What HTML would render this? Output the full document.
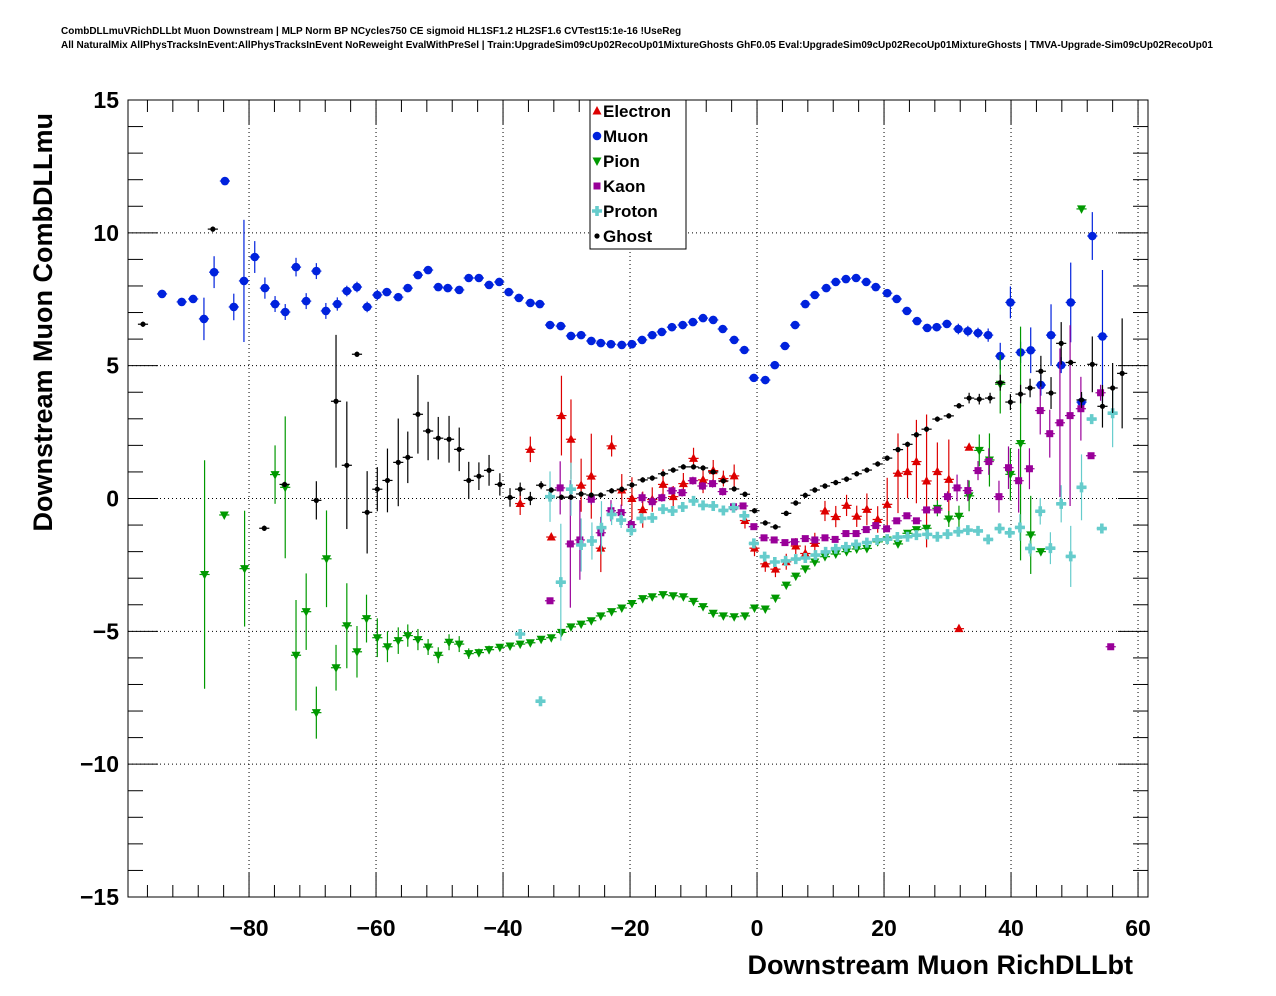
<!DOCTYPE html>
<html><head><meta charset="utf-8"><style>
html,body{margin:0;padding:0;background:#fff;}
svg{display:block;font-family:"Liberation Sans",sans-serif;}
</style></head><body>
<svg id="chart" width="1276" height="996" viewBox="0 0 1276 996" xmlns="http://www.w3.org/2000/svg">
<rect x="0" y="0" width="1276" height="996" fill="#fff"/>
<text x="61" y="34" font-size="10" font-weight="bold">CombDLLmuVRichDLLbt Muon Downstream | MLP Norm BP NCycles750 CE sigmoid HL1SF1.2 HL2SF1.6 CVTest15:1e-16 !UseReg</text>
<text x="61" y="48" font-size="10" font-weight="bold">All NaturalMix AllPhysTracksInEvent:AllPhysTracksInEvent NoReweight EvalWithPreSel | Train:UpgradeSim09cUp02RecoUp01MixtureGhosts GhF0.05 Eval:UpgradeSim09cUp02RecoUp01MixtureGhosts | TMVA-Upgrade-Sim09cUp02RecoUp01</text>
<g id="grid"></g>
<g id="axes"></g>
<g id="series"></g>
<rect x="128" y="100" width="1020" height="797" fill="none" stroke="#000" stroke-width="1"/>
<text x="1133" y="974" font-size="27" font-weight="bold" text-anchor="end">Downstream Muon RichDLLbt</text>
<text transform="translate(52,113) rotate(-90)" font-size="27" font-weight="bold" text-anchor="end">Downstream Muon CombDLLmu</text>
<g id="legend"></g>
</svg>
<script>
const xTickValues=[-80,-60,-40,-20,0,20,40,60];
const xTickLabels=["\u221280","\u221260","\u221240","\u221220","0","20","40","60"];
const yTickValues=[-15,-10,-5,0,5,10,15];
const yTickLabels=["\u221215","\u221210","\u22125","0","5","10","15"];

const electronX=[-37.3,-35.7,-32.4,-30.8,-29.3,-27.7,-26.1,-24.6,-22.9,-21.3,-19.7,-18.0,-16.5,-14.8,-13.2,-11.6,-10.0,-8.5,-6.9,-5.3,-3.6,-1.9,-0.4,1.3,2.9,4.6,6.1,7.6,9.1,10.7,12.4,14.1,15.7,17.3,19.0,20.5,22.2,23.7,25.1,26.7,28.4,30.2,31.8,33.4];
const electronY=[-0.19,1.85,-1.45,3.12,2.23,0.5,0.84,-1.87,1.98,0.32,0.0,-0.42,-0.04,0.53,0.07,0.56,1.51,0.70,1.05,0.75,0.85,-0.83,-1.87,-2.46,-2.66,-2.38,-1.79,-2.07,-1.69,-0.47,-0.68,-0.26,-0.67,-0.41,-0.79,-0.22,0.95,1.01,1.39,0.66,1.01,0.72,-4.9,1.93];
const electronErr=[0.43,0.48,0.1,1.5,1.5,1.0,1.6,0.9,0.4,0.6,0.8,0.68,0.46,0.57,0.4,0.4,0.4,0.5,0.4,0.3,0.43,0.3,0.3,0.3,0.3,0.3,0.3,0.3,0.4,0.38,0.4,0.4,0.4,0.6,0.5,1.0,1.5,1.0,1.57,2.5,1.1,1.5,0.1,0.1];

const muonX=[-93.7,-90.6,-88.8,-87.1,-85.5,-83.8,-82.4,-80.8,-79.1,-77.5,-75.9,-74.3,-72.6,-71.0,-69.4,-67.9,-66.1,-64.6,-63.0,-61.4,-59.8,-58.3,-56.5,-55.0,-53.4,-51.8,-50.2,-48.7,-46.9,-45.4,-43.8,-42.2,-40.6,-39.1,-37.5,-35.7,-34.2,-32.6,-30.9,-29.3,-27.7,-26.1,-24.6,-23.0,-21.3,-19.7,-18.1,-16.5,-15.0,-13.4,-11.7,-10.1,-8.5,-6.9,-5.4,-3.6,-2.0,-0.5,1.3,2.8,4.4,6.0,7.6,9.1,10.9,12.4,14.0,15.6,17.2,18.7,20.5,22.0,23.6,25.2,26.8,28.3,29.9,31.7,33.2,34.8,36.4,38.3,39.9,41.5,43.1,44.7,46.3,47.9,49.4,51.1,52.8,54.4];
const muonY=[7.70,7.40,7.51,6.76,8.52,11.95,7.21,8.19,9.09,7.92,7.32,7.02,8.71,7.43,8.56,7.06,7.32,7.81,7.96,7.21,7.66,7.77,7.58,7.92,8.41,8.60,7.96,7.92,7.85,8.30,8.30,8.04,8.15,7.77,7.55,7.36,7.32,6.53,6.49,6.12,6.15,5.93,5.85,5.81,5.78,5.81,5.97,6.15,6.27,6.45,6.53,6.64,6.79,6.72,6.38,5.97,5.59,4.54,4.46,5.02,5.74,6.53,7.32,7.66,7.92,8.15,8.26,8.30,8.15,7.96,7.73,7.51,7.06,6.68,6.42,6.45,6.57,6.38,6.30,6.23,6.15,5.36,7.38,5.50,5.58,4.27,6.15,5.02,7.38,3.63,9.88,6.10];
const muonErr=[0.1,0.1,0.15,0.8,0.6,0.1,0.5,2.3,0.6,0.4,0.3,0.3,0.35,0.3,0.3,0.3,0.25,0.2,0.2,0.2,0.2,0.15,0.15,0.15,0.15,0.15,0.15,0.15,0.15,0.15,0.15,0.15,0.15,0.15,0.15,0.15,0.15,0.12,0.12,0.12,0.12,0.12,0.12,0.12,0.12,0.12,0.12,0.12,0.12,0.12,0.12,0.12,0.12,0.12,0.12,0.12,0.12,0.12,0.12,0.12,0.12,0.12,0.12,0.12,0.12,0.12,0.12,0.12,0.12,0.12,0.12,0.12,0.12,0.12,0.12,0.15,0.15,0.2,0.2,0.2,0.25,0.5,0.6,0.4,0.86,0.4,1.16,0.3,1.5,0.3,0.9,2.5];

const pionX=[-87.0,-83.9,-80.7,-75.9,-74.3,-72.6,-71.0,-69.4,-67.8,-66.3,-64.6,-63.0,-61.5,-59.8,-58.2,-56.5,-55.0,-53.4,-51.8,-50.2,-48.5,-46.9,-45.4,-43.8,-42.2,-40.5,-38.9,-37.3,-35.7,-34.0,-32.4,-30.8,-29.3,-27.7,-26.1,-24.6,-22.9,-21.3,-19.7,-18.0,-16.5,-14.8,-13.2,-11.6,-10.0,-8.5,-6.9,-5.3,-3.6,-1.9,-0.4,1.3,2.9,4.6,6.1,7.6,9.1,10.7,12.4,14.1,15.7,17.3,19.0,20.5,22.2,23.7,25.1,26.7,28.4,30.2,31.8,33.4,35.0,36.6,38.3,39.9,41.5,43.1,44.7,51.1];
const pionY=[-2.86,-0.62,-2.64,0.9,0.42,-5.9,-4.26,-8.06,-2.27,-6.37,-4.79,-5.77,-4.52,-5.24,-5.58,-5.35,-5.16,-5.31,-5.59,-5.9,-5.41,-5.48,-5.84,-5.80,-5.69,-5.6,-5.55,-5.48,-5.43,-5.3,-5.24,-5.04,-4.83,-4.73,-4.6,-4.42,-4.26,-4.12,-3.95,-3.77,-3.70,-3.62,-3.66,-3.70,-3.87,-4.07,-4.32,-4.42,-4.45,-4.42,-4.12,-4.16,-3.75,-3.26,-2.92,-2.65,-2.39,-2.19,-2.09,-2.0,-1.9,-1.88,-1.63,-1.56,-1.71,-1.31,-1.17,-1.12,-0.37,-0.77,-0.67,0.1,1.81,1.45,4.3,0.91,2.07,-1.37,-2.0,10.9];
const pionErr=[4.3,0.1,2.18,1.1,2.67,2.08,1.44,0.98,1.82,0.86,1.6,0.97,0.9,0.73,0.58,0.5,0.42,0.4,0.3,0.3,0.3,0.3,0.2,0.15,0.15,0.1,0.1,0.1,0.1,0.1,0.1,0.1,0.1,0.1,0.1,0.1,0.1,0.1,0.1,0.1,0.1,0.1,0.1,0.1,0.1,0.1,0.1,0.1,0.1,0.1,0.1,0.1,0.1,0.1,0.1,0.1,0.1,0.1,0.1,0.1,0.1,0.1,0.1,0.1,0.1,0.1,0.1,0.1,0.3,0.3,0.4,0.58,0.6,1.0,1.1,0.98,4.4,1.47,0.1,0.1];

const kaonX=[-32.6,-31.0,-29.4,-27.9,-26.1,-24.6,-23.0,-21.4,-19.8,-18.1,-16.5,-15.0,-13.4,-11.8,-10.1,-8.6,-7.0,-5.4,-3.7,-2.2,-0.5,1.1,2.7,4.4,5.9,7.6,9.1,10.7,12.3,14.0,15.6,17.2,18.7,20.4,22.0,23.6,25.1,26.7,28.4,30.0,31.5,33.2,34.8,36.5,38.1,39.6,41.2,42.9,44.6,46.1,47.7,49.3,51.0,52.6,54.1,55.7];
const kaonY=[-3.85,0.4,-1.71,-1.56,-0.03,-1.29,-0.46,-0.53,-0.98,0.03,-0.12,0.03,0.29,0.22,0.67,0.47,0.56,0.26,-0.31,-0.28,-1.06,-1.48,-1.56,-1.66,-1.63,-1.51,-1.56,-1.48,-1.54,-1.32,-1.32,-1.17,-1.02,-1.14,-0.84,-0.65,-0.84,-0.43,-0.43,0.07,0.4,0.3,1.05,1.39,0.07,1.16,0.67,1.12,3.31,2.44,2.85,3.12,3.38,1.61,3.98,-5.58];
const kaonErr=[0.1,1.0,2.4,1.5,0.2,0.6,0.4,0.3,0.2,0.2,0.2,0.15,0.15,0.15,0.15,0.15,0.15,0.15,0.1,0.1,0.1,0.1,0.1,0.1,0.1,0.1,0.1,0.1,0.1,0.1,0.1,0.1,0.1,0.1,0.1,0.1,0.1,0.1,0.1,0.2,0.5,0.4,0.36,0.5,0.6,0.8,1.2,0.77,0.9,0.9,2.8,3.4,1.2,0.1,0.3,0.1];

const protonX=[-37.3,-34.1,-32.6,-30.9,-29.3,-27.7,-26.0,-24.5,-22.9,-21.4,-19.8,-18.2,-16.5,-14.8,-13.3,-11.7,-10.0,-8.5,-6.9,-5.3,-3.7,-2.0,-0.5,1.2,2.8,4.5,6.1,7.6,9.2,10.8,12.4,14.0,15.6,17.3,18.9,20.5,22.1,23.7,25.1,26.8,28.4,30.0,31.7,33.2,34.8,36.4,38.2,39.8,41.4,43.0,44.6,46.2,47.9,49.4,51.1,52.7,54.3,56.0];
const protonY=[-5.1,-7.63,0.07,-3.15,0.35,-1.75,-1.6,-1.1,-0.6,-0.81,-1.2,-0.75,-0.73,-0.4,-0.47,-0.32,-0.09,-0.26,-0.28,-0.45,-0.35,-0.65,-1.69,-2.19,-2.39,-2.35,-2.28,-2.24,-2.13,-2.01,-1.89,-1.82,-1.73,-1.66,-1.56,-1.53,-1.45,-1.44,-1.38,-1.35,-1.44,-1.34,-1.25,-1.19,-1.22,-1.54,-1.13,-1.29,-1.09,-1.88,-0.48,-1.87,-0.2,-2.18,0.42,2.99,-1.13,3.21];
const protonErr=[0.1,0.1,0.95,2.2,1.0,1.0,0.7,1.0,0.4,0.3,0.2,0.15,0.15,0.1,0.1,0.1,0.1,0.1,0.1,0.1,0.1,0.1,0.1,0.1,0.1,0.1,0.1,0.1,0.1,0.1,0.1,0.1,0.1,0.1,0.1,0.1,0.1,0.1,0.1,0.1,0.1,0.1,0.1,0.1,0.1,0.1,0.2,0.2,0.5,0.3,0.5,0.6,0.7,1.15,1.24,0.1,0.1,1.28];

const ghostX=[-96.7,-85.7,-77.6,-74.4,-69.4,-66.3,-64.6,-63.0,-61.4,-59.8,-58.2,-56.5,-55.0,-53.4,-51.8,-50.2,-48.5,-46.9,-45.4,-43.8,-42.2,-40.5,-38.9,-37.3,-35.7,-34.0,-32.4,-30.8,-29.3,-27.7,-26.1,-24.6,-22.9,-21.3,-19.7,-18.0,-16.5,-14.8,-13.2,-11.6,-10.0,-8.5,-6.9,-5.3,-3.6,-1.9,-0.4,1.3,2.9,4.6,6.1,7.6,9.1,10.7,12.4,14.1,15.7,17.3,19.0,20.5,22.2,23.7,25.1,26.7,28.4,30.2,31.8,33.4,35.0,36.7,38.3,39.9,41.5,43.0,44.7,46.3,47.9,49.4,51.1,52.8,54.4,56.0,57.5];
const ghostY=[6.56,10.14,-1.12,0.53,-0.07,3.66,1.25,5.43,-0.52,0.35,0.68,1.36,1.55,3.17,2.54,2.27,2.23,1.85,0.68,0.84,1.06,0.53,0.04,0.35,0.0,0.5,0.32,0.05,0.05,0.17,0.13,0.13,0.29,0.35,0.51,0.70,0.77,0.93,1.07,1.19,1.19,1.15,1.0,0.66,0.36,0.16,-0.46,-0.92,-1.07,-0.56,-0.17,0.12,0.32,0.47,0.6,0.73,0.93,1.07,1.3,1.52,1.84,2.04,2.40,2.61,2.99,3.11,3.49,3.78,3.74,3.78,4.36,3.63,3.93,4.16,4.79,3.97,5.84,5.12,3.71,5.05,3.47,4.16,4.71];
const ghostErr=[0.1,0.1,0.1,0.1,0.72,2.5,2.4,0.1,1.55,0.83,1.2,1.65,0.97,1.48,1.1,0.8,0.88,0.82,0.7,0.52,0.58,0.42,0.35,0.25,0.25,0.15,0.1,0.1,0.1,0.1,0.1,0.1,0.1,0.1,0.1,0.1,0.1,0.1,0.1,0.1,0.1,0.1,0.1,0.1,0.1,0.1,0.1,0.1,0.1,0.1,0.1,0.1,0.1,0.1,0.1,0.1,0.1,0.1,0.1,0.1,0.1,0.1,0.1,0.1,0.1,0.1,0.1,0.2,0.2,0.2,0.3,0.3,0.35,0.35,0.58,0.6,0.8,0.1,0.3,1.05,0.8,0.94,2.07];

const NS="http://www.w3.org/2000/svg";
const L=128,R=1148,T=100,B=897;
const xMin=-99.06,xMax=61.57,yMin=-15,yMax=15;
function xs(v){return L+(v-xMin)/(xMax-xMin)*(R-L);}
function ys(v){return B-(v-yMin)/(yMax-yMin)*(B-T);}
function mk(tag,attrs,parent){const e=document.createElementNS(NS,tag);for(const k in attrs)e.setAttribute(k,attrs[k]);parent.appendChild(e);return e;}

const grid=document.getElementById('grid');
const axes=document.getElementById('axes');
xTickValues.forEach((v,i)=>{
  const x=xs(v);
  if(v>xMin&&v<xMax){
    const g=mk('line',{x1:x,x2:x,y1:T,y2:B,stroke:'#000','stroke-width':1,'stroke-dasharray':'1,3'},grid);
    
    
  }
  const t=mk('text',{x:x,y:936,'font-size':23,'font-weight':'bold','text-anchor':'middle'},axes);
  
  
  t.textContent=xTickLabels[i];
});
yTickValues.forEach((v,i)=>{
  const y=ys(v);
  if(v>yMin&&v<yMax){
    const g=mk('line',{x1:L,x2:R,y1:y,y2:y,stroke:'#000','stroke-width':1,'stroke-dasharray':'1,3'},grid);
    
    
  }
  const t=mk('text',{x:119,y:y+8,'font-size':23,'font-weight':'bold','text-anchor':'end'},axes);
  
  
  t.textContent=yTickLabels[i];
});
for(let v=-96;v<=60;v+=4){
  const x=xs(v);const major=(v%20===0);const len=major?24:12;
  const a=mk('line',{x1:x,x2:x,y1:B,y2:B-len,stroke:'#000','stroke-width':1},axes);
  
  
  const b=mk('line',{x1:x,x2:x,y1:T,y2:T+len,stroke:'#000','stroke-width':1},axes);
  
  
}
for(let v=-15;v<=15;v+=1){
  const y=ys(v);const major=(v%5===0);const len=major?30:15;
  const a=mk('line',{x1:L,x2:L+len,y1:y,y2:y,stroke:'#000','stroke-width':1},axes);
  
  
  const b=mk('line',{x1:R,x2:R-len,y1:y,y2:y,stroke:'#000','stroke-width':1},axes);
  
  
}

function marker(kind,cx,cy,color,parent){
  let e;
  if(kind==='tri-up') e=mk('polygon',{points:`${cx},${cy-5} ${cx-4.5},${cy+3.5} ${cx+4.5},${cy+3.5}`,fill:color},parent);
  else if(kind==='tri-down') e=mk('polygon',{points:`${cx},${cy+5} ${cx-4.5},${cy-3.5} ${cx+4.5},${cy-3.5}`,fill:color},parent);
  else if(kind==='circle') e=mk('circle',{cx:cx,cy:cy,r:4.3,fill:color},parent);
  else if(kind==='small') e=mk('circle',{cx:cx,cy:cy,r:2.6,fill:color},parent);
  else if(kind==='square') e=mk('rect',{x:cx-3.5,y:cy-3.5,width:7,height:7,fill:color},parent);
  else if(kind==='cross') e=mk('path',{d:`M${cx-5},${cy-1.8}h3.2v-3.2h3.6v3.2h3.2v3.6h-3.2v3.2h-3.6v-3.2h-3.2z`,fill:color},parent);
  return e;
}
function drawSeries(name,X,Y,E,color,kind){
  const g=mk('g',{},document.getElementById('series'));
  
  
  const n=Math.min(X.length,Y.length,E.length);
  for(let i=0;i<n;i++){
    if(Y[i]<yMin||Y[i]>yMax) continue;
    const cx=xs(X[i]),cy=ys(Y[i]);
    const h=mk('line',{x1:xs(X[i]-0.8),x2:xs(X[i]+0.8),y1:cy,y2:cy,stroke:color,'stroke-width':1.2},g);
    
    
    const v=mk('line',{x1:cx,x2:cx,y1:ys(Math.min(yMax,Y[i]+E[i])),y2:ys(Math.max(yMin,Y[i]-E[i])),stroke:color,'stroke-width':1.2},g);
    
    
    const m=marker(kind,cx,cy,color,g);
    
    
  }
}
const C={e:'#dd0000',mu:'#0022dd',pi:'#009900',k:'#990099',p:'#66cccc',g:'#000000'};
drawSeries('electron',electronX,electronY,electronErr,C.e,'tri-up');
drawSeries('muon',muonX,muonY,muonErr,C.mu,'circle');
drawSeries('pion',pionX,pionY,pionErr,C.pi,'tri-down');
drawSeries('kaon',kaonX,kaonY,kaonErr,C.k,'square');
drawSeries('proton',protonX,protonY,protonErr,C.p,'cross');
drawSeries('ghost',ghostX,ghostY,ghostErr,C.g,'small');

const lg=document.getElementById('legend');
const box=mk('rect',{x:590,y:100,width:96,height:149,fill:'#fff',stroke:'#000','stroke-width':1},lg);


const legNames=['Electron','Muon','Pion','Kaon','Proton','Ghost'];
const legKinds=['tri-up','circle','tri-down','square','cross','small'];
const legColors=[C.e,C.mu,C.pi,C.k,C.p,C.g];
legNames.forEach((nm,i)=>{
  const y=111+i*25;
  const m=marker(legKinds[i],597,y,legColors[i],lg);
  
  
  const t=mk('text',{x:603,y:y+6,'font-size':17,'font-weight':'bold'},lg);
  
  
  t.textContent=nm;
});
</script>
</body></html>
